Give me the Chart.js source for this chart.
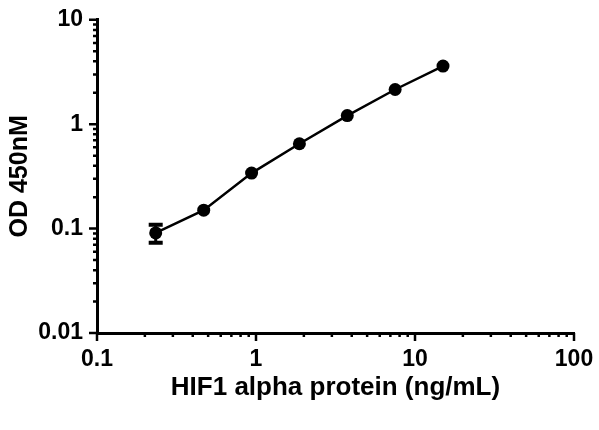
<!DOCTYPE html>
<html>
<head>
<meta charset="utf-8">
<script src="https://cdn.jsdelivr.net/npm/chart.js@4.4.1/dist/chart.umd.min.js"></script>
<style>
  html, body { margin: 0; padding: 0; background: #fff; }
  #wrap { width: 599px; height: 430px; }
</style>
</head>
<body>
<div id="wrap"><canvas id="curve"></canvas></div>
<script>
// ── Data ─────────────────────────────────────────────────────────────────────
const concentrations = [0.234, 0.469, 0.938, 1.875, 3.75, 7.5, 15];
const odValues = [0.091, 0.150, 0.340, 0.650, 1.21, 2.15, 3.60];
const odErrors = [0.018, 0.005, 0.010, 0.015, 0.020, 0.030, 0.040];

const xMajorTicks = [0.1, 1, 10, 100];
const yMajorTicks = [0.01, 0.1, 1, 10];
const xTitle = 'HIF1 alpha protein (ng/mL)';
const yTitle = 'OD 450nM';

const FONT = 'Liberation Sans, Arial, Helvetica, sans-serif';

// minor ticks 2..9 inside each decade
function logTicks(majors) {
    const out = [];
    majors.forEach((m, i) => {
        out.push({ value: m, major: true });
        if (i < majors.length - 1) {
            for (let k = 2; k <= 9; k++) out.push({ value: m * k, major: false });
        }
    });
    return out;
}

// ── Error bars + tick marks drawn through the chart scales ──────────────────
const decorations = {
    id: 'decorations',
    afterDatasetsDraw(chart) {
        const { ctx, scales: { x, y } } = chart;
        ctx.save();
        ctx.strokeStyle = '#000';
        concentrations.forEach((c, i) => {
            const px = x.getPixelForValue(c);
            const top = y.getPixelForValue(odValues[i] + odErrors[i]);
            const bot = y.getPixelForValue(odValues[i] - odErrors[i]);
            if (bot - top < 12) return; // hidden behind the marker
            ctx.lineWidth = 3;
            ctx.beginPath();
            ctx.moveTo(px, top); ctx.lineTo(px, bot);
            ctx.stroke();
            ctx.lineWidth = 4;
            ctx.beginPath();
            ctx.moveTo(px - 7, top); ctx.lineTo(px + 7, top);
            ctx.moveTo(px - 7, bot); ctx.lineTo(px + 7, bot);
            ctx.stroke();
        });
        ctx.restore();
    },
    afterDraw(chart) {
        const { ctx, chartArea, scales: { x, y } } = chart;
        ctx.save();
        ctx.strokeStyle = '#000';
        ctx.lineWidth = 2.5;
        ctx.beginPath();
        logTicks(xMajorTicks).forEach(t => {
            const px = x.getPixelForValue(t.value);
            ctx.moveTo(px, chartArea.bottom);
            ctx.lineTo(px, chartArea.bottom + (t.major ? 8 : 4));
        });
        logTicks(yMajorTicks).forEach(t => {
            const py = y.getPixelForValue(t.value);
            ctx.moveTo(chartArea.left, py);
            ctx.lineTo(chartArea.left - (t.major ? 8 : 4), py);
        });
        ctx.stroke();
        ctx.restore();
    }
};

const tickFont = { family: FONT, size: 23, weight: 'bold' };

new Chart(document.getElementById('curve'), {
    type: 'scatter',
    data: {
        datasets: [{
            data: concentrations.map((c, i) => ({ x: c, y: odValues[i] })),
            showLine: true,
            borderColor: '#000',
            borderWidth: 2.5,
            tension: 0,
            pointRadius: 6.5,
            pointBackgroundColor: '#000',
            pointBorderColor: '#000',
            pointBorderWidth: 0
        }]
    },
    options: {
        responsive: true,
        maintainAspectRatio: false,
        animation: false,
        layout: { padding: { top: 15, right: 25, left: 0, bottom: 0 } },
        plugins: { legend: { display: false }, tooltip: { enabled: false } },
        scales: {
            x: {
                type: 'logarithmic',
                min: 0.1,
                max: 100,
                afterBuildTicks: s => { s.ticks = logTicks(xMajorTicks).map(t => ({ value: t.value })); },
                afterFit: s => { s.height = 97; },
                grid: { display: true, drawOnChartArea: false, tickLength: 8, tickColor: 'transparent' },
                border: { display: true, color: '#000', width: 3 },
                ticks: {
                    autoSkip: false,
                    maxRotation: 0,
                    padding: 5,
                    color: '#000',
                    font: tickFont,
                    callback: v => xMajorTicks.includes(v) ? String(v) : ''
                },
                title: {
                    display: true, text: xTitle, color: '#000',
                    font: { family: FONT, size: 26, weight: 'bold' },
                    padding: { top: 0, bottom: 27 }
                }
            },
            y: {
                type: 'logarithmic',
                min: 0.01,
                max: 10,
                afterBuildTicks: s => { s.ticks = logTicks(yMajorTicks).map(t => ({ value: t.value })); },
                afterFit: s => { s.width = 97; },
                grid: { display: true, drawOnChartArea: false, tickLength: 8, tickColor: 'transparent' },
                border: { display: true, color: '#000', width: 3 },
                ticks: {
                    autoSkip: false,
                    padding: 6,
                    color: '#000',
                    font: tickFont,
                    callback: v => yMajorTicks.includes(v) ? String(v) : ''
                },
                title: {
                    display: true, text: yTitle, color: '#000',
                    font: { family: FONT, size: 25, weight: 'bold' },
                    padding: { top: 5, bottom: 0 }
                }
            }
        }
    },
    plugins: [decorations]
});
</script>
</body>
</html>
